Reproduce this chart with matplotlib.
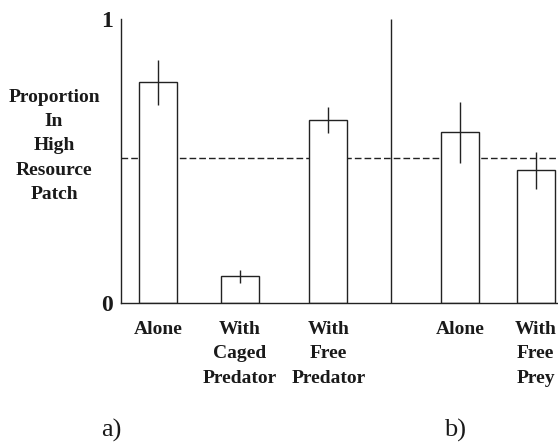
import matplotlib
matplotlib.use("Agg")
import matplotlib.pyplot as plt

plt.rcParams.update({
    "font.family": ["Liberation Serif", "DejaVu Serif"],
    "font.size": 14,
    "font.weight": "bold",
    "axes.linewidth": 1.0,
    "axes.edgecolor": "#222222",
    "text.color": "#1a1a1a",
    "xtick.color": "#1a1a1a",
    "ytick.color": "#1a1a1a",
})

# values
labels = ["Alone", "With\nCaged\nPredator", "With\nFree\nPredator", "Alone", "With\nFree\nPrey"]
means = [0.777, 0.092, 0.643, 0.600, 0.466]
errors = [0.080, 0.023, 0.046, 0.108, 0.066]
chance = 0.51

# layout (x in units of ~85 px)
pos = [0.435, 1.40, 2.44, 3.99, 4.88]
divider = 3.176
bar_w = 0.447

fig = plt.figure(figsize=(5.58, 4.42), dpi=100)
ax = fig.add_axes([0.2168, 0.3156, 0.7832, 0.6414])

ax.bar(pos, means, width=bar_w, color="white", edgecolor="#222222", linewidth=1.0, zorder=2)
ax.errorbar(pos, means, yerr=errors, fmt="none", ecolor="#222222", elinewidth=1.0, capsize=0, zorder=3)
ax.axhline(chance, color="#222222", linewidth=1.0, linestyle=(0, (4.8, 2.2)), zorder=1)
ax.vlines(divider, 0, 1, color="#222222", linewidth=1.0)

ax.set_xlim(0, 5.141)
ax.set_ylim(0, 1)
ax.spines["top"].set_visible(False)
ax.spines["right"].set_visible(False)

ax.set_xticks(pos)
ax.set_xticklabels(labels, fontsize=14, linespacing=1.58, va="top")
ax.tick_params(axis="x", length=0, pad=13)
ax.set_yticks([0, 1])
ax.set_yticklabels(["0", "1"], fontsize=17)
ax.tick_params(axis="y", length=0, pad=6)

fig.text(54 / 558, 1 - 146 / 442, "Proportion\nIn\nHigh\nResource\nPatch",
         ha="center", va="center", fontsize=14, linespacing=1.55)
fig.text(111 / 558, 1 - 430 / 442, "a)", ha="center", va="center", fontsize=19, fontweight="normal")
fig.text(455 / 558, 1 - 430 / 442, "b)", ha="center", va="center", fontsize=19, fontweight="normal")

fig.savefig("out.png", dpi=100)
